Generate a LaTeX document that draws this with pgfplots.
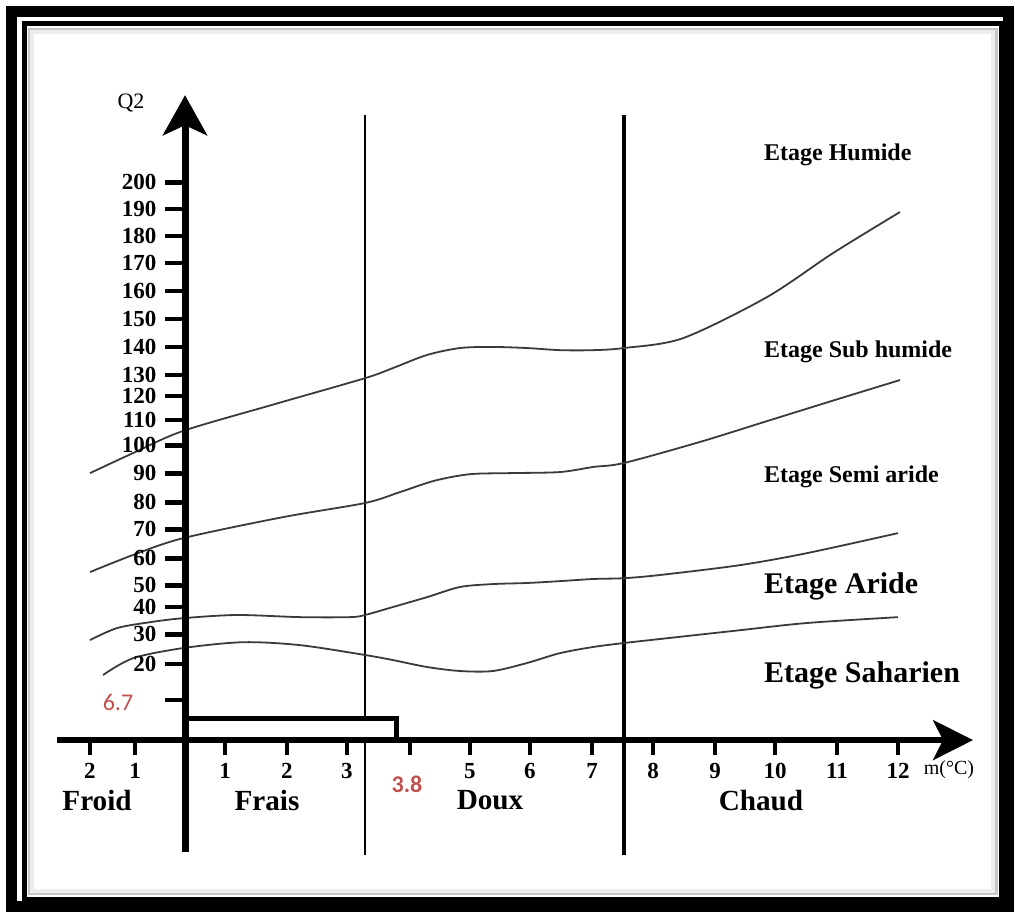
\documentclass[border=0pt]{standalone}
\usepackage{pgfplots}
\pgfplotsset{compat=1.18}
\usetikzlibrary{arrows.meta}
\usepackage{fontspec}
\setmainfont{Liberation Serif}
\newfontfamily\calfont{Carlito}
\definecolor{redlab}{HTML}{C0504D}
\definecolor{curvecol}{HTML}{3A3A3A}

\begin{document}
\begin{tikzpicture}
\begin{axis}[
  x=30.55pt, y=1.3335pt,
  xmin=-2.095, xmax=12.897, ymin=-42.0, ymax=241.8,
  axis lines=middle,
  axis on top,
  clip=false,
  tick align=outside,
  every inner x axis line/.append style={line width=2.6pt, -{Stealth[length=20pt,width=20pt,inset=5pt]}},
  every inner y axis line/.append style={line width=3.5pt, -{Stealth[length=20pt,width=22pt,inset=5pt]}},
  xtick={-1.555,-0.818,0.655,1.669,2.651,3.682,4.664,5.646,6.661,7.660,8.674,9.656,10.671,11.669},
  xticklabels={2,1,1,2,3,{},5,6,7,8,9,10,11,12},
  ytick={15.0,28.5,39.7,49.9,58.1,68.2,79.1,89.2,100.1,110.6,120.0,129.0,136.9,147.4,157.9,168.4,178.9,189.0,199.1,209.2},
  yticklabels={{},20,30,40,50,60,70,80,90,100,110,120,130,140,150,160,170,180,190,200},
  xtick style={black, line width=2.4pt, /pgfplots/major tick length=7.5pt},
  ytick style={black, line width=2.4pt, /pgfplots/major tick length=10pt},
  ticklabel style={font=\bfseries\fontsize{11.5}{11.5}\selectfont},
  xticklabel shift=4pt,
  yticklabel shift=6.5pt,
  minor tick num=0,
]
% frame
\path (axis cs:-3.028,277.5) rectangle (axis cs:13.584,-64.9);
\draw[line width=5.5pt] (axis cs:-2.840,273.2) rectangle (axis cs:13.470,-62.4);
\draw[line width=2.5pt] (axis cs:-2.635,268.5) rectangle (axis cs:13.355,-59.6);
\draw[line width=1.5pt, gray!45] (axis cs:-2.553,266.6) rectangle (axis cs:13.273,-57.7);
\draw[line width=2pt, gray!15] (axis cs:-2.504,265.5) rectangle (axis cs:13.224,-56.6);

% vertical limits
\addplot[black, line width=1pt, mark=none] coordinates {(2.946,234.3) (2.946,-43.1)};
\addplot[black, line width=2pt, mark=none] coordinates {(7.185,234.3) (7.185,-43.1)};

% boundary curves
\addplot[curvecol, line width=0.9pt, smooth, mark=none] coordinates {
(-1.555,100.1) (-0.851,107.6) (-0.033,115.9) (1.473,126.0) (2.946,135.7) (3.404,139.5)
(3.961,144.4) (4.501,147.0) (5.041,147.4) (5.597,147.0) (6.137,146.2) (6.678,146.2)
(7.185,147.0) (8.150,150.7) (9.525,166.1) (10.606,182.6) (11.702,198.0)};
\addplot[curvecol, line width=0.9pt, smooth, mark=none] coordinates {
(-1.555,63.0) (-0.851,69.4) (-0.033,75.7) (1.604,83.6) (2.946,88.9) (3.519,93.0)
(4.092,97.3) (4.664,99.7) (5.319,100.1) (6.137,100.5) (6.678,102.4)
(7.185,103.9) (8.429,111.8) (9.525,119.6) (10.606,127.3) (11.702,135.0)};
\addplot[curvecol, line width=0.9pt, smooth, mark=none] coordinates {
(-1.555,37.5) (-1.113,42.0) (-0.573,44.2) (-0.033,45.7) (0.851,46.9) (1.882,46.1)
(2.700,46.1) (2.946,46.9) (3.404,49.9) (3.961,53.6) (4.501,57.4) (5.041,58.5)
(5.597,58.9) (6.137,59.6) (6.678,60.4) (7.185,60.7) (7.774,61.9) (9.083,65.6)
(10.180,70.1) (11.669,77.6)};
\addplot[curvecol, line width=0.9pt, smooth, mark=none] coordinates {
(-1.342,24.4) (-0.851,30.7) (-0.033,34.5) (0.949,36.7) (1.882,35.6) (2.946,31.9)
(3.404,30.0) (3.961,27.4) (4.501,25.9) (5.041,25.9) (5.597,28.9) (6.137,32.6)
(6.678,34.9) (7.185,36.4) (7.774,37.9) (9.083,41.2) (10.180,43.9) (11.669,46.1)};

% rectangle (m range)
\addplot[draw=black, fill=white, line width=2.5pt, mark=none, line join=miter] coordinates {
(0.02,0.2) (0.02,7.99) (3.462,7.99) (3.462,0.2) (0.02,0.2)};

% labels
\node[font=\fontsize{11}{11}\selectfont] at (axis cs:-0.884,238.8) {Q2};
\node[font=\fontsize{10}{10}\selectfont] at (axis cs:12.504,-11.2) {m(°C)};
\node[font=\bfseries\fontsize{12}{12}\selectfont, anchor=west] at (axis cs:9.362,219.3) {Etage Humide};
\node[font=\bfseries\fontsize{12}{12}\selectfont, anchor=west] at (axis cs:9.362,145.5) {Etage Sub humide};
\node[font=\bfseries\fontsize{12}{12}\selectfont, anchor=west] at (axis cs:9.362,98.6) {Etage Semi aride};
\node[font=\bfseries\fontsize{15}{15}\selectfont, anchor=west] at (axis cs:9.362,57.7) {Etage Aride};
\node[font=\bfseries\fontsize{15}{15}\selectfont, anchor=west] at (axis cs:9.362,24.4) {Etage Saharien};
\node[font=\bfseries\fontsize{14.6}{14.6}\selectfont] at (axis cs:-1.440,-22.5) {Froid};
\node[font=\bfseries\fontsize{14.6}{14.6}\selectfont] at (axis cs:1.342,-22.5) {Frais};
\node[font=\bfseries\fontsize{14.6}{14.6}\selectfont] at (axis cs:4.992,-22.5) {Doux};
\node[font=\bfseries\fontsize{14.6}{14.6}\selectfont] at (axis cs:9.427,-22.5) {Chaud};
\node[font=\calfont\fontsize{12}{12}\selectfont, text=redlab] at (axis cs:-1.097,14.2) {6.7};
\node[font=\calfont\bfseries\fontsize{12}{12}\selectfont, text=redlab] at (axis cs:3.633,-16.5) {3.8};
\end{axis}
\end{tikzpicture}
\end{document}
